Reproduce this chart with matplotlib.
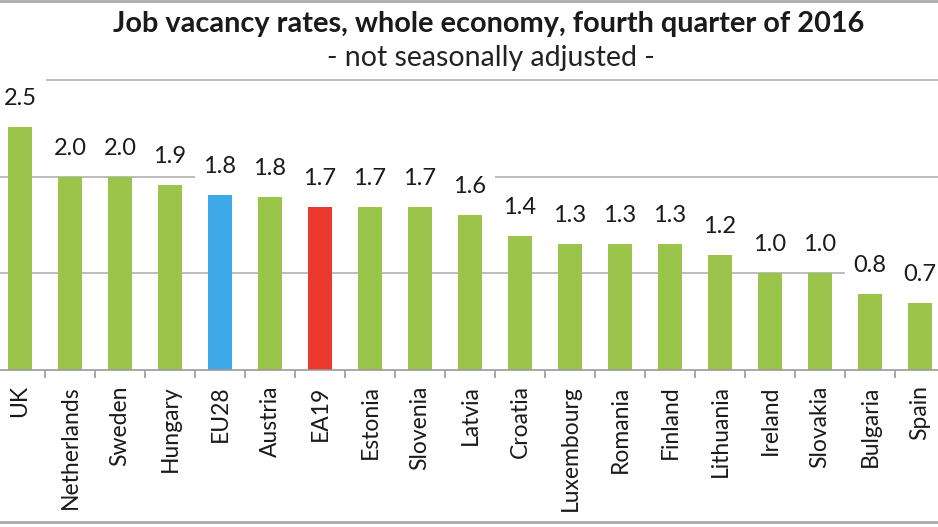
import matplotlib.pyplot as plt
import numpy as np

countries = ['UK', 'Netherlands', 'Sweden', 'Hungary', 'EU28', 'Austria', 'EA19',
             'Estonia', 'Slovenia', 'Latvia', 'Croatia', 'Luxembourg', 'Romania',
             'Finland', 'Lithuania', 'Ireland', 'Slovakia', 'Bulgaria', 'Spain']
rates = [2.5, 2.0, 2.0, 1.9, 1.8, 1.8, 1.7, 1.7, 1.7, 1.6, 1.4, 1.3, 1.3, 1.3,
         1.2, 1.0, 1.0, 0.8, 0.7]
# bar heights as drawn (slightly more precise than the rounded labels)
heights = [2.51, 2.0, 2.0, 1.91, 1.81, 1.79, 1.69, 1.69, 1.69, 1.6, 1.39, 1.3,
           1.3, 1.3, 1.19, 1.0, 1.0, 0.79, 0.69]

green = '#9BC54A'
colors = [green] * len(countries)
colors[countries.index('EU28')] = '#3DA9E8'
colors[countries.index('EA19')] = '#E8382F'

plt.rcParams['font.family'] = ['Lato', 'DejaVu Sans']

W, H = 938, 527
fig = plt.figure(figsize=(W / 100, H / 100), dpi=100)

# plot area extends slightly past the cropped image edges
left_px, right_px, top_px, bot_px = -5, 945, 80, 370
ax = fig.add_axes([left_px / W, 1 - bot_px / H,
                   (right_px - left_px) / W, (bot_px - top_px) / H])

x = np.arange(len(countries))
ax.bar(x, heights, width=0.49, color=colors, zorder=2)
ax.set_xlim(-0.5, len(countries) - 0.5)
ax.set_ylim(0, 3)

# white label boxes hide the gridlines behind them, as in the original
for xi, v, h in zip(x, rates, heights):
    ax.annotate(f'{v:.1f}', (xi, h), xytext=(0, 13), textcoords='offset points',
                ha='center', va='bottom', fontsize=17, color='#1a1a1a', zorder=3,
                bbox=dict(facecolor='white', edgecolor='none', pad=6))

ax.set_yticks([1, 2])
ax.yaxis.grid(True, color='#b0b0b0', linewidth=1.2, zorder=0)
ax.axhline(3, xmin=52 / 950, color='#b0b0b0', linewidth=1.2, zorder=0, clip_on=False)
ax.tick_params(axis='y', left=False, labelleft=False)

ax.set_xticks(x)
ax.set_xticklabels(countries, rotation=90, fontsize=16.5, color='#1a1a1a')
ax.tick_params(axis='x', which='major', length=0, pad=11)
ax.set_xticks(np.arange(0.5, len(countries) - 0.5), minor=True)
ax.tick_params(axis='x', which='minor', length=6, color='#999999', width=1.2)

for s in ['top', 'left', 'right']:
    ax.spines[s].set_visible(False)
ax.spines['bottom'].set_color('#999999')
ax.spines['bottom'].set_linewidth(1.2)

fig.text(489 / W, 1 - 24 / H, 'Job vacancy rates, whole economy, fourth quarter of 2016',
         ha='center', va='center', fontsize=20.8, fontweight='bold', color='#1a1a1a')
fig.text(491 / W, 1 - 58 / H, '- not seasonally adjusted -',
         ha='center', va='center', fontsize=20.5, color='#222222')

# outer frame lines at top and bottom
fig.add_artist(plt.Line2D([0, 1], [1 - 1 / H, 1 - 1 / H], color='#aaaaaa', linewidth=2))
fig.add_artist(plt.Line2D([0, 1], [1 - 522 / H, 1 - 522 / H], color='#aaaaaa', linewidth=2))

fig.savefig('out.png', dpi=100)
